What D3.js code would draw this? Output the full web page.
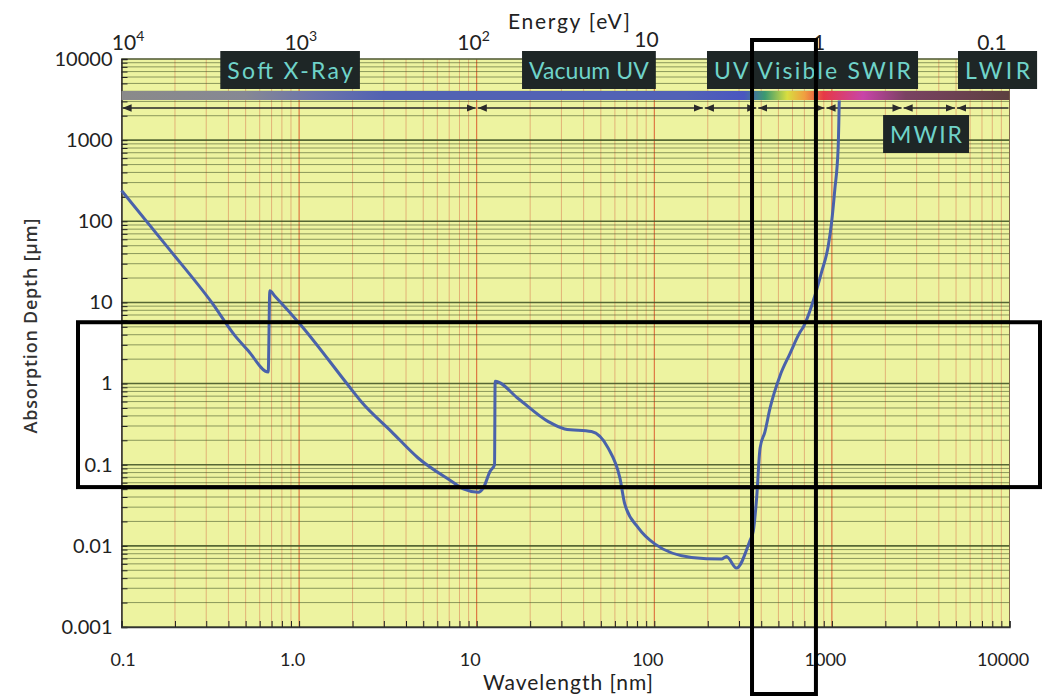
<!DOCTYPE html>
<html lang="en">
<head>
    <meta charset="UTF-8">
    <title>Absorption Depth vs Wavelength</title>
    <script src="https://d3js.org/d3.v7.min.js"></script>
    <style>
        body { margin: 0; background: #fff; }
        text { font-family: "Lato", "DejaVu Sans", sans-serif; fill: #222; }
    </style>
</head>
<body>
<svg id="chart" width="1042" height="698"></svg>
<script>
// absorption depth curve
const wavelengthNm = [0.1, 0.183, 0.322, 0.435, 0.516, 0.67, 0.684, 0.729, 1.03, 1.89, 2.24, 3.31, 4.68, 7.21, 8.4, 10.2, 10.9, 11.9, 12.6, 12.7,
    17.1, 25.3, 31.3, 44.3, 55, 64, 68.3, 81.1, 101, 162, 239, 255, 290, 345, 361, 377, 394, 420, 448, 511, 580, 661, 689, 801, 873, 953, 995, 1038, 1085, 1100];
const depthUm = [239, 47, 10, 3.9, 2.56, 1.39, 13.9, 12, 5.17, 0.953, 0.597, 0.256, 0.121, 0.0626, 0.0504, 0.0459, 0.0519, 0.083, 0.1, 1.07,
    0.655, 0.34, 0.276, 0.256, 0.16, 0.0688, 0.0324, 0.0168, 0.0105, 0.0072, 0.00687, 0.0074, 0.00533, 0.0115, 0.0153, 0.0391, 0.16, 0.256, 0.494, 1.26, 2.33, 4.29, 4.94, 12, 23.3, 49.3, 95, 244, 826, 3080];

const xTicks = [0.1, 1, 10, 100, 1000, 10000];
const xTickLabels = ["0.1", "1.0", "10", "100", "1000", "10000"];
const yTicks = [10000, 1000, 100, 10, 1, 0.1, 0.01, 0.001];
const yTickLabels = ["10000", "1000", "100", "10", "1", "0.1", "0.01", "0.001"];
const energyTicks = [1e4, 1e3, 1e2, 10, 1, 0.1];
const energyBase = ["10", "10", "10", "10", "1", "0.1"];
const energyExp = ["4", "3", "2", "", "", ""];

// spectral bands (nm) for the arrow row
const bandEdges = [0.1, 10, 190, 380, 920, 2500, 5000, 10000];
// label boxes: text and wavelength span
const bandLabels = ["Soft X-Ray", "Vacuum UV", "UV Visible SWIR", "LWIR", "MWIR"];
const bandLabelFrom = [0.36, 18, 198, 5130, 1942];
const bandLabelTo = [2.2, 102, 3055, 14300, 5917];

const svg = d3.select('#chart');
const plot = { left: 121.5, right: 1009.5, top: 59, bottom: 627 };

const x = d3.scaleLog().domain([0.1, 10000]).range([plot.left, plot.right]);
const y = d3.scaleLog().domain([0.001, 10000]).range([plot.bottom, plot.top]);
const xE = d3.scaleLog().domain([1e4, 0.1]).range([128, 992]);
const isDecade = d => Math.abs(Math.log10(d) - Math.round(Math.log10(d))) < 1e-6;

// background
svg.append('rect')
    .attr('x', plot.left).attr('y', plot.top)
    .attr('width', plot.right - plot.left).attr('height', plot.bottom - plot.top)
    .attr('fill', '#edf3a0');

// vertical grid (orange)
svg.append('g').selectAll('line')
    .data(x.ticks())
    .enter().append('line')
    .attr('x1', d => x(d)).attr('x2', d => x(d))
    .attr('y1', plot.top).attr('y2', plot.bottom)
    .attr('stroke', d => isDecade(d) ? '#d9461e' : '#e0a870')
    .attr('stroke-width', 1)
    .attr('opacity', 0.85);

// horizontal grid (dark green)
svg.append('g').selectAll('line')
    .data(y.ticks())
    .enter().append('line')
    .attr('x1', plot.left).attr('x2', plot.right)
    .attr('y1', d => y(d)).attr('y2', d => y(d))
    .attr('stroke', '#46582a')
    .attr('stroke-width', d => isDecade(d) ? 1.6 : 0.9)
    .attr('opacity', d => isDecade(d) ? 0.9 : 0.65);

// border
svg.append('rect')
    .attr('x', plot.left).attr('y', plot.top)
    .attr('width', plot.right - plot.left).attr('height', plot.bottom - plot.top)
    .attr('fill', 'none').attr('stroke', '#6b6b50').attr('stroke-width', 0.8);

// minor ticks, inside
svg.append('g')
    .attr('transform', `translate(${plot.left},0)`)
    .call(d3.axisLeft(y).ticks(80).tickSize(-6).tickFormat(''))
    .call(g => g.selectAll('line').attr('stroke', '#222'))
    .call(g => g.select('.domain').attr('stroke', '#333').attr('stroke-width', 1.5));

svg.append('g')
    .attr('transform', `translate(0,${plot.bottom})`)
    .call(d3.axisBottom(x).ticks(60).tickSize(-6).tickFormat(''))
    .call(g => g.selectAll('line').attr('stroke', '#222'))
    .call(g => g.select('.domain').attr('stroke', '#333').attr('stroke-width', 1.5));

// y tick labels
svg.append('g')
    .attr('transform', `translate(${plot.left},0)`)
    .call(d3.axisLeft(y).tickValues(yTicks).tickFormat((d, i) => yTickLabels[i]).tickSize(0).tickPadding(9))
    .call(g => g.select('.domain').remove())
    .call(g => g.selectAll('text').attr('font-size', 20).style('font-family', '"Lato", sans-serif').attr('fill', '#222'));

// x tick labels
svg.append('g')
    .attr('transform', `translate(0,${plot.bottom})`)
    .call(d3.axisBottom(x).tickValues(xTicks).tickFormat((d, i) => xTickLabels[i]).tickSize(0).tickPadding(26))
    .call(g => g.select('.domain').remove())
    .call(g => g.selectAll('text').attr('font-size', 18).attr('dx', (d, i) => i === 0 ? 1 : -7).attr('fill', '#222'));

// energy labels on top
const eLab = svg.append('g').selectAll('text')
    .data(energyTicks)
    .enter().append('text')
    .attr('x', d => xE(d))
    .attr('y', (d, i) => i === 3 ? 47 : 50)
    .attr('text-anchor', 'middle')
    .attr('font-size', 21);
eLab.append('tspan').text((d, i) => energyBase[i]);
eLab.append('tspan').text((d, i) => energyExp[i])
    .attr('font-size', 14).attr('dy', -9);

svg.append('text')
    .attr('x', 508).attr('y', 29)
    .attr('font-size', 21)
    .attr('textLength', 122)
    .text('Energy [eV]');

// spectrum bar
const grad = svg.append('defs').append('linearGradient')
    .attr('id', 'spec').attr('gradientUnits', 'userSpaceOnUse')
    .attr('x1', plot.left).attr('x2', plot.right).attr('y1', 0).attr('y2', 0);
const stops = [[0.1, '#8a8a8a'], [0.5, '#868894'], [1.2, '#6c74aa'], [3, '#5262b2'], [150, '#5262b6'], [320, '#4a56c0'],
    [420, '#3c9a70'], [560, '#d8de40'], [700, '#f0a040'], [900, '#e63a46'], [1500, '#c844a8'], [2600, '#7a4262'], [10000, '#5c4040']];
grad.selectAll('stop').data(stops).enter().append('stop')
    .attr('offset', d => (x(d[0]) - plot.left) / (plot.right - plot.left))
    .attr('stop-color', d => d[1]);

svg.append('rect')
    .attr('x', plot.left).attr('y', 91)
    .attr('width', plot.right - plot.left).attr('height', 9)
    .attr('fill', 'url(#spec)');

// arrows for band ranges
const defs = svg.select('defs');
defs.append('marker').attr('id', 'arrEnd').attr('viewBox', '0 0 10 10')
    .attr('refX', 10).attr('refY', 5).attr('markerWidth', 7).attr('markerHeight', 7).attr('orient', 'auto')
    .append('path').attr('d', 'M0,1 L10,5 L0,9 Z').attr('fill', '#2a2a2a');
defs.append('marker').attr('id', 'arrStart').attr('viewBox', '0 0 10 10')
    .attr('refX', 0).attr('refY', 5).attr('markerWidth', 7).attr('markerHeight', 7).attr('orient', 'auto')
    .append('path').attr('d', 'M10,1 L0,5 L10,9 Z').attr('fill', '#2a2a2a');

svg.append('g').selectAll('line')
    .data(d3.pairs(bandEdges))
    .enter().append('line')
    .attr('x1', d => x(d[0]) + 1).attr('x2', d => x(d[1]) - 1)
    .attr('y1', 108).attr('y2', 108)
    .attr('stroke', '#2a2a2a').attr('stroke-width', 1.3)
    .attr('marker-start', 'url(#arrStart)')
    .attr('marker-end', (d, i) => i === bandEdges.length - 2 ? null : 'url(#arrEnd)');

// band label boxes
const boxes = svg.append('g').selectAll('g')
    .data(bandLabels)
    .enter().append('g');
boxes.append('rect')
    .attr('x', (d, i) => x(bandLabelFrom[i]))
    .attr('y', d => d === 'MWIR' ? 115 : 51)
    .attr('width', (d, i) => x(bandLabelTo[i]) - x(bandLabelFrom[i]))
    .attr('height', 38)
    .attr('fill', '#1e2626');
boxes.append('text')
    .attr('x', (d, i) => (x(bandLabelFrom[i]) + x(bandLabelTo[i])) / 2)
    .attr('y', d => d === 'MWIR' ? 143 : 79)
    .attr('text-anchor', 'middle')
    .attr('font-size', 23)
    .attr('textLength', (d, i) => x(bandLabelTo[i]) - x(bandLabelFrom[i]) - 14)
    .attr('lengthAdjust', 'spacing')
    .style('fill', '#6fd3c9')
    .style('white-space', 'pre')
    .text(d => d);

// the curve
const line = d3.line()
    .x(d => x(d[0]))
    .y(d => y(d[1]))
    .curve(d3.curveMonotoneX);

svg.append('path')
    .datum(d3.zip(wavelengthNm, depthUm))
    .attr('fill', 'none')
    .attr('stroke', '#4a62aa')
    .attr('stroke-width', 3)
    .attr('stroke-linejoin', 'round')
    .attr('d', line);

// axis titles
svg.append('text')
    .attr('x', 483).attr('y', 690)
    .attr('font-size', 21)
    .attr('textLength', 170)
    .text('Wavelength [nm]');

svg.append('text')
    .attr('transform', 'translate(37,326) rotate(-90)')
    .attr('text-anchor', 'middle')
    .attr('font-size', 18)
    .attr('font-weight', 600)
    .attr('textLength', 215)
    .style('font-family', '"Open Sans", sans-serif')
    .style('fill', '#333')
    .text('Absorption Depth [μm]');

// highlight boxes drawn over the chart
svg.append('rect')
    .attr('x', x(355)).attr('y', 40)
    .attr('width', x(813) - x(355)).attr('height', 654)
    .attr('fill', 'none').attr('stroke', '#000').attr('stroke-width', 4);

svg.append('rect')
    .attr('x', 78).attr('y', y(5.7))
    .attr('width', 962).attr('height', y(0.053) - y(5.7))
    .attr('fill', 'none').attr('stroke', '#000').attr('stroke-width', 4);
</script>
</body>
</html>
